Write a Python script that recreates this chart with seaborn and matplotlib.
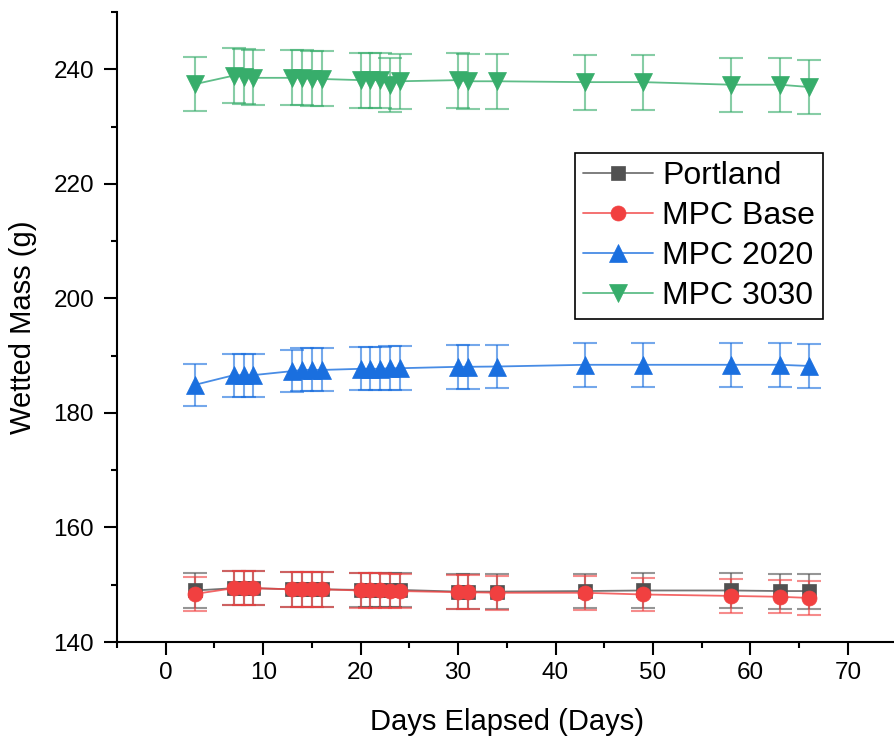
import matplotlib
matplotlib.use("Agg")
import matplotlib.pyplot as plt
import matplotlib.ticker as ticker
import seaborn as sns
import pandas as pd

# Days at which the samples were weighed
days = [3, 7, 8, 9, 13, 14, 15, 16, 20, 21, 22, 23, 24, 30, 31, 34, 43, 49, 58, 63, 66]

# Mean wetted mass (g) per mix
portland = [149.0, 149.4, 149.4, 149.4, 149.2, 149.2, 149.2, 149.2, 149.1, 149.1, 149.1,
            149.1, 149.1, 148.8, 148.8, 148.8, 148.9, 149.0, 149.0, 148.9, 148.9]
mpc_base = [148.4, 149.4, 149.4, 149.4, 149.2, 149.2, 149.2, 149.2, 149.0, 149.0, 149.0,
            148.9, 148.9, 148.7, 148.7, 148.6, 148.6, 148.3, 148.05, 147.9, 147.7]
mpc_2020 = [184.9, 186.6, 186.6, 186.6, 187.3, 187.5, 187.5, 187.5, 187.7, 187.7, 187.7,
            187.8, 187.8, 188.05, 188.05, 188.1, 188.4, 188.4, 188.4, 188.4, 188.2]
mpc_3030 = [237.4, 238.9, 238.7, 238.5, 238.5, 238.5, 238.3, 238.3, 238.1, 238.1, 238.1,
            237.3, 237.9, 238.1, 237.9, 237.9, 237.75, 237.75, 237.3, 237.3, 236.9]

# Standard deviations (error bars)
portland_err = [3.0, 3.0, 3.0, 3.0, 3.0, 3.0, 3.0, 3.0, 3.0, 3.0, 3.0,
                3.0, 3.0, 3.0, 3.0, 3.0, 3.0, 3.0, 3.05, 3.05, 3.05]
mpc_base_err = [3.0, 3.0, 3.0, 3.0, 3.0, 3.0, 3.0, 3.0, 3.0, 3.0, 3.0,
                3.0, 3.0, 3.0, 3.0, 3.0, 3.0, 2.9, 2.9, 2.9, 2.9]
mpc_2020_err = [3.7, 3.75, 3.75, 3.75, 3.7, 3.75, 3.75, 3.75, 3.75, 3.75, 3.75,
                3.8, 3.8, 3.8, 3.8, 3.8, 3.8, 3.8, 3.8, 3.8, 3.8]
mpc_3030_err = [4.7, 4.8, 4.8, 4.8, 4.8, 4.8, 4.8, 4.8, 4.8, 4.8, 4.8,
                4.7, 4.8, 4.8, 4.8, 4.8, 4.8, 4.8, 4.7, 4.7, 4.7]

series = [
    ("Portland", portland, portland_err, "#515151", "s", 9.8),
    ("MPC Base", mpc_base, mpc_base_err, "#F14040", "o", 10.8),
    ("MPC 2020", mpc_2020, mpc_2020_err, "#1A6FDF", "^", 12.5),
    ("MPC 3030", mpc_3030, mpc_3030_err, "#37AD6B", "v", 12.5),
]

sns.set_style("ticks")
plt.rcParams["font.family"] = ["Liberation Sans", "DejaVu Sans"]
plt.rcParams["text.color"] = "black"
plt.rcParams["axes.labelcolor"] = "black"

fig = plt.figure(figsize=(8.94, 7.43), dpi=100)
ax = fig.add_axes([0.1309, 0.1359, 0.872, 0.848])

for name, vals, errs, color, marker, ms in series:
    df = pd.DataFrame({"day": days, "mass": vals})
    ax.errorbar(days, vals, yerr=errs, fmt="none", ecolor=color, alpha=0.6,
                elinewidth=1.5, capsize=8.6, capthick=1.5, zorder=2)
    sns.lineplot(data=df, x="day", y="mass", ax=ax, label=name,
                 color=matplotlib.colors.to_rgba(color, 0.8), linewidth=1.3,
                 marker=marker, markersize=ms, markerfacecolor=color,
                 markeredgecolor=color, markeredgewidth=0.5, zorder=3)

ax.set_xlim(-5, 75)
ax.set_ylim(140, 250)
ax.xaxis.set_major_locator(ticker.MultipleLocator(10))
ax.xaxis.set_minor_locator(ticker.MultipleLocator(5))
ax.yaxis.set_major_locator(ticker.MultipleLocator(20))
ax.yaxis.set_minor_locator(ticker.MultipleLocator(10))
ax.tick_params(which="major", direction="out", length=9.5, width=1.5,
               labelsize=17.5, colors="black", labelcolor="black", pad=5)
ax.tick_params(which="minor", direction="out", length=4.5, width=1.5, colors="black")
ax.tick_params(axis="y", which="major", pad=7)

for side in ["top", "right"]:
    ax.spines[side].set_visible(False)
for side in ["left", "bottom"]:
    ax.spines[side].set_linewidth(1.5)
    ax.spines[side].set_color("black")

ax.set_xlabel("Days Elapsed (Days)", fontsize=21, labelpad=17, color="black")
ax.set_ylabel("Wetted Mass (g)", fontsize=21, labelpad=12, color="black")

leg = ax.legend(loc="upper left", bbox_to_anchor=(0.5876, 0.776), borderaxespad=0,
                fontsize=23, frameon=True, fancybox=False, framealpha=1,
                edgecolor="black", handlelength=2.2, handletextpad=0.28,
                labelspacing=0.31, borderpad=0.25)
leg.get_frame().set_linewidth(1.2)
for txt in leg.get_texts():
    txt.set_color("black")

fig.savefig("out.png", dpi=100)
